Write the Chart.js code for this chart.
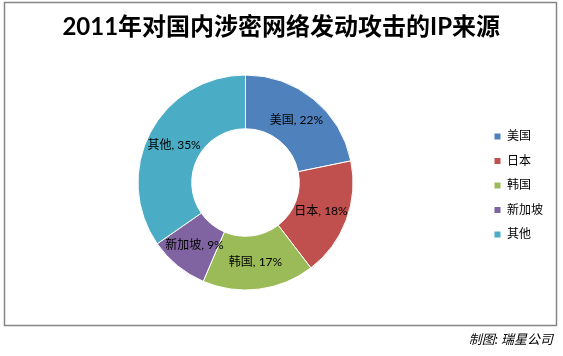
<!DOCTYPE html>
<html><head><meta charset="utf-8">
<script src="https://cdn.jsdelivr.net/npm/chart.js@4.4.1/dist/chart.umd.min.js"></script>
<style>html,body{margin:0;padding:0;background:#fff}#wrap{width:563px;height:356px;position:relative}</style>
</head><body><div id="wrap"><canvas id="c" width="563" height="356"></canvas></div>
<script>
const categories = ['美国', '日本', '韩国', '新加坡', '其他'];
const shares = [22, 18, 17, 9, 35];
const colors = ['#4F81BD', '#C0504D', '#9BBB59', '#8064A2', '#4BACC6'];
const titleText = '2011年对国内涉密网络发动攻击的IP来源';
const creditText = '制图: 瑞星公司';

const FONT = "Lato, 'Noto Sans CJK SC', sans-serif";

const frame = {
  id: 'frame',
  beforeDraw(chart) {
    const ctx = chart.ctx;
    ctx.save();
    ctx.fillStyle = '#fff';
    ctx.fillRect(0, 0, chart.width, chart.height);
    ctx.strokeStyle = '#868686';
    ctx.lineWidth = 1.5;
    ctx.strokeRect(4.5, 2.5, 552, 323);
    ctx.restore();
  }
};

const sliceLabels = {
  id: 'sliceLabels',
  afterDatasetsDraw(chart) {
    const ctx = chart.ctx;
    const meta = chart.getDatasetMeta(0);
    ctx.save();
    ctx.font = "12px " + FONT;
    ctx.fillStyle = '#000';
    ctx.textAlign = 'center';
    ctx.textBaseline = 'middle';
    meta.data.forEach((arc, i) => {
      const p = arc.tooltipPosition();
      ctx.fillText(categories[i] + ', ' + shares[i] + '%', p.x, p.y);
    });
    ctx.restore();
  }
};

new Chart(document.getElementById('c'), {
  type: 'doughnut',
  data: {
    labels: categories,
    datasets: [{
      data: shares,
      backgroundColor: colors,
      borderColor: '#fff',
      borderWidth: 1,
      hoverOffset: 0
    }]
  },
  options: {
    responsive: false,
    animation: false,
    cutout: '50%',
    radius: 107.5,
    layout: { padding: { left: 9.5, right: 10, top: 0, bottom: 0 } },
    plugins: {
      title: {
        display: true,
        text: titleText,
        color: '#000',
        font: { family: FONT, size: 24, weight: 'bold', lineHeight: 1.2 },
        padding: { top: 13, bottom: 0 }
      },
      subtitle: {
        display: true,
        text: creditText,
        position: 'bottom',
        align: 'end',
        color: '#000',
        font: { family: FONT, size: 13, style: 'italic', lineHeight: 1.2 },
        padding: { top: 9, bottom: 8.2 }
      },
      legend: {
        position: 'right',
        title: {
          display: true,
          text: ' ',
          font: { family: FONT, size: 10, lineHeight: 1 },
          padding: { top: 5, bottom: 0 }
        },
        labels: {
          boxWidth: 7,
          boxHeight: 7,
          padding: 12.5,
          color: '#000',
          font: { family: FONT, size: 12 }
        }
      },
      tooltip: { enabled: false }
    }
  },
  plugins: [frame, sliceLabels]
});
</script>
</body></html>
